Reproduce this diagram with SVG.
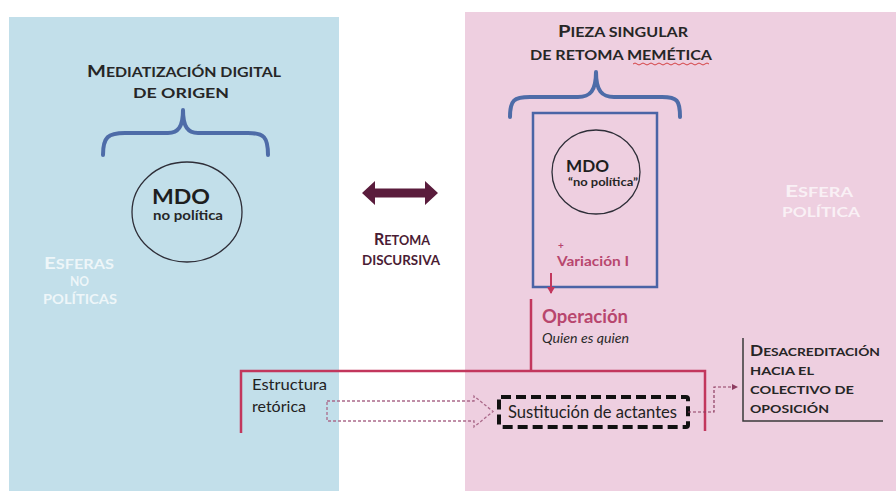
<svg xmlns="http://www.w3.org/2000/svg" width="896" height="491" viewBox="0 0 896 491">
  <style>
    text { font-family: Lato, "Liberation Sans", "DejaVu Sans", sans-serif; }
    .sc { font-weight: 700; font-size: 13.5px; fill: #262626; }
    .sc .cap { font-size: 17px; }
    .sm { font-size: 12px; }
    .sm .cap { font-size: 15px; }
    .maroon { fill: #4a1c34; }
    .pale { fill: #ffffff; opacity: 0.72; }
    .palep { fill: #ffffff; opacity: 0.7; }
    .brace { fill: none; stroke: #4e6ca8; stroke-width: 4; stroke-linecap: round; stroke-linejoin: round; }
    .ring { fill: none; stroke: #2e2e38; stroke-width: 1.3; }
    .red { fill: none; stroke: #c2375d; stroke-width: 2.5; }
    .plain { font-size: 16px; fill: #222; }
    .rose { fill: #b8466e; font-weight: 700; }
  </style>
  <defs>
    <marker id="tipRed" markerWidth="8" markerHeight="8" refX="6" refY="4" orient="auto" markerUnits="userSpaceOnUse">
      <path d="M0,0 L7,4 L0,8 Z" fill="#c2375d"/>
    </marker>
    <marker id="tipDot" markerWidth="7" markerHeight="7" refX="5" refY="3.5" orient="auto" markerUnits="userSpaceOnUse">
      <path d="M0,0.5 L6,3.5 L0,6.5 Z" fill="#8e3d61"/>
    </marker>
  </defs>

  <rect width="896" height="491" fill="#ffffff"/>

  <!-- spheres -->
  <g id="sphere-nonpolitical">
    <rect x="9" y="17" width="330" height="474" fill="#c2dfea"/>
    <text class="sc pale" x="44" y="269" textLength="70" lengthAdjust="spacingAndGlyphs"><tspan class="cap">E</tspan>SFERAS</text>
    <text class="sc pale" x="70" y="286" textLength="19" lengthAdjust="spacingAndGlyphs">NO</text>
    <text class="sc pale" x="43" y="304" textLength="74" lengthAdjust="spacingAndGlyphs">POLÍTICAS</text>
  </g>
  <g id="sphere-political">
    <rect x="465" y="12" width="431" height="479" fill="#eecfe0"/>
    <text class="sc palep" x="785" y="197" textLength="68" lengthAdjust="spacingAndGlyphs"><tspan class="cap">E</tspan>SFERA</text>
    <text class="sc palep" x="782" y="217" textLength="78" lengthAdjust="spacingAndGlyphs">POLÍTICA</text>
  </g>

  <!-- origin mediatization -->
  <g id="origin">
    <text class="sc" x="87" y="77" textLength="194" lengthAdjust="spacingAndGlyphs"><tspan class="cap">M</tspan>EDIATIZACIÓN DIGITAL</text>
    <text class="sc" x="133" y="98" textLength="96" lengthAdjust="spacingAndGlyphs">DE ORIGEN</text>
    <path class="brace" d="M103,155 C103,137 108,133 125,133 L168,133 C178,133 183,127 183,110 C183,127 188,133 198,133 L248,133 C264,133 268,137 268,155"/>
  </g>
  <g id="mdo-origin">
    <ellipse class="ring" cx="187" cy="212" rx="55" ry="50"/>
    <text x="152" y="204" font-size="20" font-weight="700" fill="#1e1e1e" textLength="58" lengthAdjust="spacingAndGlyphs">MDO</text>
    <text x="153" y="220" font-size="13.5" font-weight="700" fill="#262626" textLength="70" lengthAdjust="spacingAndGlyphs">no política</text>
  </g>

  <!-- discursive uptake -->
  <g id="retoma">
    <polygon points="362,193 375,181 375,188.5 425,188.5 425,181 438,193 425,205 425,197.5 375,197.5 375,205" fill="#5a1c3c"/>
    <text class="sc maroon" x="374" y="245" textLength="56" lengthAdjust="spacingAndGlyphs"><tspan class="cap">R</tspan>ETOMA</text>
    <text class="sc maroon" x="362" y="265" textLength="78" lengthAdjust="spacingAndGlyphs">DISCURSIVA</text>
  </g>

  <!-- single meme piece -->
  <g id="piece">
    <text class="sc" x="558" y="37" textLength="130" lengthAdjust="spacingAndGlyphs"><tspan class="cap">P</tspan>IEZA SINGULAR</text>
    <text class="sc" x="530" y="60" textLength="182" lengthAdjust="spacingAndGlyphs">DE RETOMA MEMÉTICA</text>
    <path d="M633,64 q2,-2 4,0 t4,0 t4,0 t4,0 t4,0 t4,0 t4,0 t4,0 t4,0 t4,0 t4,0 t4,0 t4,0 t4,0 t4,0 t4,0 t4,0 t4,0 t4,0" fill="none" stroke="#d03030" stroke-width="0.9"/>
    <path class="brace" d="M510,117 C510,100 514,97 530,97 L578,97 C590,97 596,91 596,72 C596,91 602,97 614,97 L662,97 C677,97 680,100 680,117"/>
    <rect x="533" y="113" width="124" height="174" fill="none" stroke="#4a64a6" stroke-width="2.5"/>
  </g>
  <g id="mdo-piece">
    <ellipse class="ring" cx="596" cy="172" rx="44" ry="42"/>
    <text x="566" y="172" font-size="17" font-weight="700" fill="#1e1e1e" textLength="43" lengthAdjust="spacingAndGlyphs">MDO</text>
    <text x="568" y="186" font-size="11" font-weight="700" fill="#262626" textLength="70" lengthAdjust="spacingAndGlyphs">“no política”</text>
  </g>
  <g id="variation">
    <text class="rose" x="558" y="249" font-size="10">+</text>
    <text class="rose" x="557" y="266" font-size="14" textLength="72" lengthAdjust="spacingAndGlyphs">Variación I</text>
  </g>

  <!-- operation -->
  <g id="operation">
    <text class="rose" x="542" y="323" font-size="18" textLength="86" lengthAdjust="spacingAndGlyphs">Operación</text>
    <text x="542" y="343" font-size="14" font-style="italic" fill="#2a2a2a" textLength="87" lengthAdjust="spacingAndGlyphs">Quien es quien</text>
  </g>

  <g id="structure">
    <text class="plain" x="252" y="390" textLength="75" lengthAdjust="spacingAndGlyphs">Estructura</text>
    <text class="plain" x="252" y="412" textLength="54" lengthAdjust="spacingAndGlyphs">retórica</text>
  </g>

  <g id="substitution">
    <rect x="499" y="397" width="189" height="30" rx="2" fill="none" stroke="#111" stroke-width="4" stroke-dasharray="10 5"/>
    <text x="508" y="418" font-size="16.5" fill="#222" textLength="169" lengthAdjust="spacingAndGlyphs">Sustitución de actantes</text>
  </g>

  <g id="discredit">
    <path d="M743,338 V421 H883" fill="none" stroke="#3a3a3a" stroke-width="1.5"/>
    <text class="sc sm" x="750" y="356" textLength="130" lengthAdjust="spacingAndGlyphs"><tspan class="cap">D</tspan>ESACREDITACIÓN</text>
    <text class="sc sm" x="750" y="375" textLength="64" lengthAdjust="spacingAndGlyphs">HACIA EL</text>
    <text class="sc sm" x="750" y="394" textLength="104" lengthAdjust="spacingAndGlyphs">COLECTIVO DE</text>
    <text class="sc sm" x="750" y="413" textLength="79" lengthAdjust="spacingAndGlyphs">OPOSICIÓN</text>
  </g>

  <!-- connectors -->
  <g id="connectors">
    <line x1="551" y1="273" x2="551" y2="293" stroke="#c2375d" stroke-width="2" marker-end="url(#tipRed)"/>
    <path class="red" d="M531,299 V371"/>
    <path class="red" d="M241,433 V371 H705 V431"/>
    <path d="M327,401 H474 V396 L493,411.5 L474,427 V421 H327 Z" fill="none" stroke="#ab6a8a" stroke-width="1.3" stroke-dasharray="3 2"/>
    <path d="M688,412 H714 V387 H737" fill="none" stroke="#8e3d61" stroke-width="1.2" stroke-dasharray="3 2" marker-end="url(#tipDot)"/>
  </g>
</svg>
